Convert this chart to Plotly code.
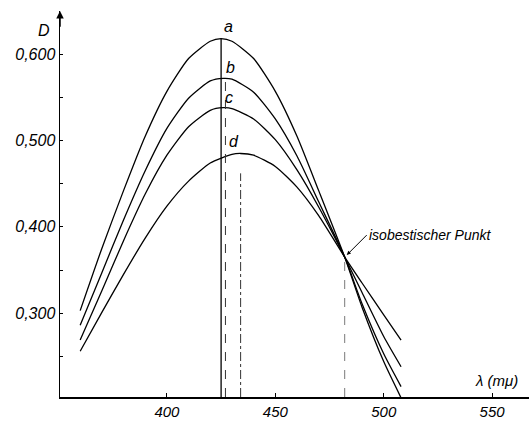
import plotly.graph_objects as go

# wavelengths (mμ) and absorbances D
lam_a = [360, 370, 380, 390, 400, 410, 420, 425, 430, 440, 450, 460, 470, 482, 490, 500, 508]
D_a   = [0.303, 0.375, 0.442, 0.505, 0.557, 0.595, 0.615, 0.618, 0.615, 0.595, 0.557, 0.505, 0.442, 0.365, 0.307, 0.244, 0.202]

lam_b = [360, 370, 380, 390, 400, 410, 420, 426, 430, 440, 450, 460, 470, 482, 490, 500, 508]
D_b   = [0.286, 0.347, 0.408, 0.465, 0.514, 0.549, 0.569, 0.572, 0.571, 0.556, 0.525, 0.482, 0.429, 0.365, 0.311, 0.253, 0.215]

lam_c = [360, 370, 380, 390, 400, 410, 420, 426, 430, 440, 450, 460, 470, 482, 490, 500, 508]
D_c   = [0.269, 0.326, 0.384, 0.438, 0.483, 0.516, 0.535, 0.538, 0.537, 0.525, 0.501, 0.466, 0.423, 0.365, 0.324, 0.273, 0.238]

lam_d = [360, 370, 380, 390, 400, 410, 420, 430, 434, 440, 450, 460, 470, 482, 490, 500, 508]
D_d   = [0.256, 0.301, 0.345, 0.387, 0.424, 0.453, 0.474, 0.484, 0.485, 0.483, 0.470, 0.446, 0.413, 0.365, 0.335, 0.298, 0.269]

curve_names = ["a", "b", "c", "d"]
label_lam = [428.6, 429.5, 428.6, 431.0]
label_D = [0.632, 0.584, 0.550, 0.499]

# vertical marker lines (λ, top D)
vline_lam = [425, 427, 434, 482]
vline_top = [0.618, 0.572, 0.462, 0.365]

x_ticks = [400, 450, 500, 550]
x_ticktext = ["400", "450", "500", "550"]
y_ticks = [0.3, 0.4, 0.5, 0.6]
y_ticktext = ["0,300", "0,400", "0,500", "0,600"]

iso_lam = 482
iso_D = 0.365

X0, X1 = 350.7, 567.0
Y0, Y1 = 0.203, 0.650

FONT = "Liberation Sans"
fig = go.Figure()

for lam, D in [(lam_a, D_a), (lam_b, D_b), (lam_c, D_c), (lam_d, D_d)]:
    fig.add_trace(go.Scatter(x=lam, y=D, mode="lines", line=dict(color="black", width=1.3, shape="spline", smoothing=0.6),
                             hoverinfo="skip", showlegend=False))

styles = ["solid", "dash", "dashdot", "dash"]
widths = [1.3, 1.0, 1.0, 0.8]
colors = ["black", "#333", "#333", "#555"]
for lv, top, st, w, c in zip(vline_lam, vline_top, styles, widths, colors):
    fig.add_trace(go.Scatter(x=[lv, lv], y=[Y0, top], mode="lines",
                             line=dict(color=c, width=w, dash=st), hoverinfo="skip", showlegend=False))

for n, lx, ly in zip(curve_names, label_lam, label_D):
    fig.add_annotation(x=lx, y=ly, text=n, showarrow=False,
                       font=dict(family=FONT, size=16, color="black", style="italic"))

fig.add_annotation(x=iso_lam, y=iso_D, text="isobestischer Punkt", showarrow=True,
                   ax=22, ay=-22, xanchor="left", yanchor="middle",
                   arrowhead=2, arrowsize=0.8, arrowwidth=1, arrowcolor="black", standoff=3,
                   font=dict(family=FONT, size=14, color="black", style="italic"))

# y-axis arrow
fig.add_annotation(x=X0, y=Y1, ax=X0, ay=Y1 - 0.02, axref="x", ayref="y", xref="x", yref="y",
                   text="", showarrow=True, arrowhead=2, arrowsize=1, arrowwidth=1.5, arrowcolor="black")

fig.add_annotation(x=0, xref="paper", xanchor="right", xshift=-8, y=0.628, text="D", showarrow=False,
                   font=dict(family=FONT, size=16, color="black", style="italic"))
fig.add_annotation(x=552, y=0.222, text="λ (mμ)", showarrow=False, xanchor="center",
                   font=dict(family=FONT, size=15, color="black", style="italic"))

fig.update_xaxes(range=[X0, X1], showline=True, linecolor="black", linewidth=1.5, showgrid=False, zeroline=False,
                 tickvals=x_ticks, ticktext=x_ticktext, ticks="inside", ticklen=4, tickcolor="black",
                 tickfont=dict(family=FONT, size=15, color="black", style="italic"))
fig.update_yaxes(range=[Y0, Y1], showline=True, linecolor="black", linewidth=1.5, showgrid=False, zeroline=False,
                 tickvals=y_ticks, ticktext=y_ticktext, ticks="inside", ticklen=3, tickcolor="black",
                 tickfont=dict(family=FONT, size=16, color="black", style="italic"),
                 minor=dict(ticks="inside", ticklen=3, dtick=0.05, tickcolor="black"))

fig.update_layout(width=529, height=422, margin=dict(l=60, r=0, t=11, b=25),
                  plot_bgcolor="white", paper_bgcolor="white")

fig.write_html("out.html", config={"displayModeBar": False, "staticPlot": True},
               post_script="document.body.style.margin='0';document.body.style.overflow='hidden';")
